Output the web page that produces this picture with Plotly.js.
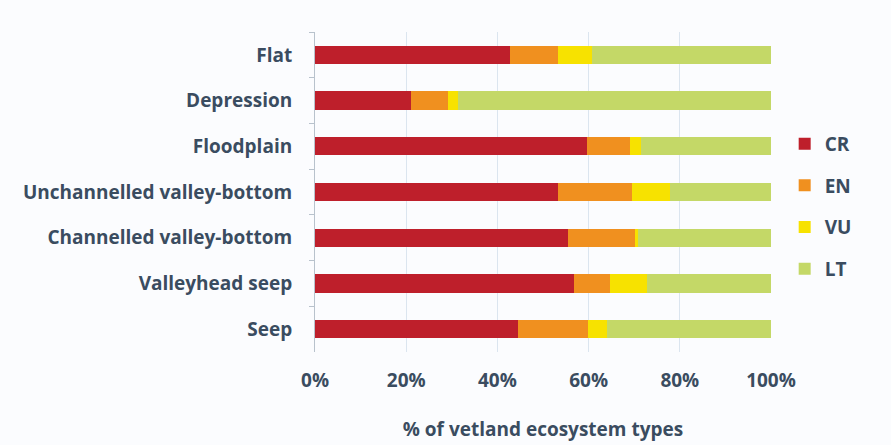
<!DOCTYPE html>
<html><head><meta charset="utf-8">
<script src="https://cdn.plot.ly/plotly-3.0.1.min.js"></script>
<style>html,body{margin:0;padding:0;background:#fbfcfe;}</style>
</head><body>
<div id="chart" style="width:891px;height:445px;"></div>
<script>
const categories = ["Flat","Depression","Floodplain","Unchannelled valley-bottom","Channelled valley-bottom","Valleyhead seep","Seep"];
const CR = [42.8, 21.0, 59.6, 53.3, 55.5, 56.8, 44.5];
const EN = [10.5, 8.2, 9.5, 16.2, 14.7, 7.9, 15.4];
const VU = [7.4, 2.2, 2.4, 8.4, 0.6, 8.1, 4.1];
const LT = [39.3, 68.6, 28.5, 22.1, 29.2, 27.2, 36.0];
const seriesNames = ["CR","EN","VU","LT"];
const seriesColors = ["#be1f2b","#f0901f","#f7e200","#c4d867"];
const xTickVals = [0,20,40,60,80,100];
const xTickText = ["0%","20%","40%","60%","80%","100%"];

const data = [CR,EN,VU,LT].map((vals,i)=>({
  type:"bar", orientation:"h", x:vals, y:categories, name:seriesNames[i],
  legendgroup:seriesNames[i], marker:{color:seriesColors[i]}, hoverinfo:"x+y+name"
}));

const font = {family:"'Open Sans', sans-serif", size:19, weight:700, color:"#3a4c60"};
const layout = {
  width:891, height:445,
  paper_bgcolor:"#fbfcfe", plot_bgcolor:"#fbfcfe",
  barmode:"stack", bargap:0.6,
  margin:{l:315, r:120, t:32, b:93},
  font:font,
  xaxis:{range:[0,100], tickvals:xTickVals, ticktext:xTickText,
    showgrid:true, gridcolor:"#dbe5ef", gridwidth:1, zeroline:false,
    showline:false, ticks:"", ticklabelstandoff:15, tickfont:font,
    title:{text:"% of vetland ecosystem types", standoff:30, font:font}},
  yaxis:{type:"category", autorange:"reversed", showline:true, linecolor:"#b8c2cc",
    ticks:"outside", ticklen:5, tickcolor:"#b8c2cc", tickson:"boundaries",
    ticklabelstandoff:18, showgrid:false, tickfont:font},
  legend:{x:1.03, y:0.71, xanchor:"left", yanchor:"top", traceorder:"grouped",
    tracegroupgap:14, font:font, itemwidth:30, bgcolor:"rgba(0,0,0,0)"},
  showlegend:true
};
Plotly.newPlot("chart", data, layout, {displayModeBar:false, staticPlot:true});
</script>
</body></html>
